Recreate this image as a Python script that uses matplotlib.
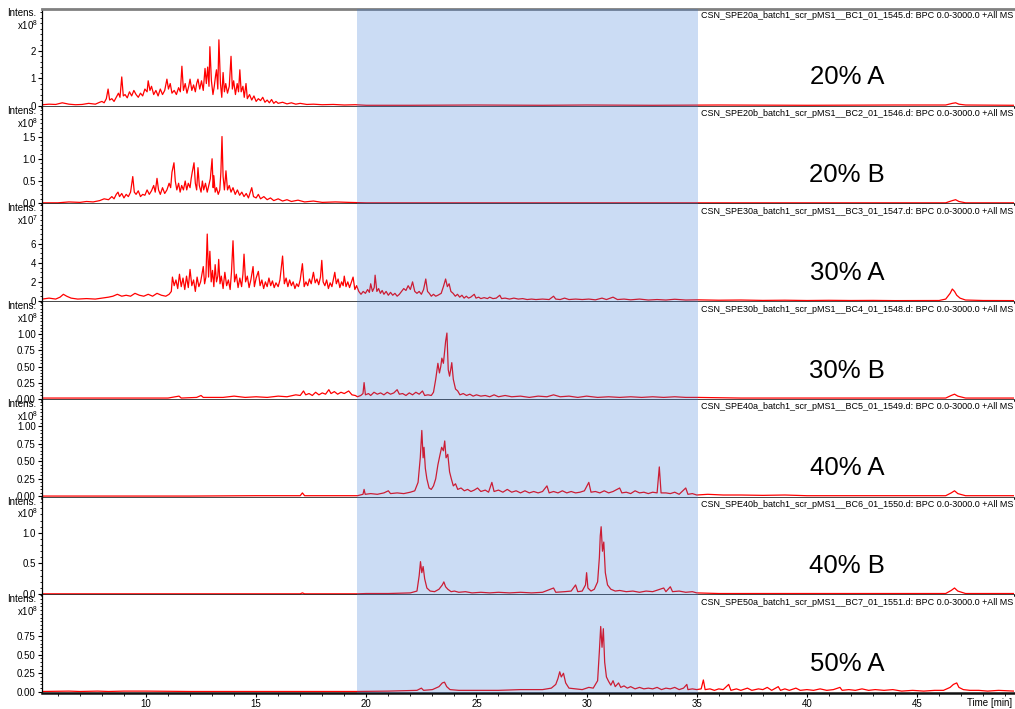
import matplotlib
matplotlib.use("Agg")
import matplotlib.pyplot as plt
from matplotlib.ticker import MultipleLocator, FormatStrFormatter

plt.rcParams['font.family'] = ['Liberation Sans', 'DejaVu Sans']
plt.rcParams['mathtext.fontset'] = 'custom'
plt.rcParams['mathtext.rm'] = 'Liberation Sans'

# --- data: retention time [min] and intensity (in units of the panel multiplier) ---
t_20a = [5.3, 5.6, 5.9, 6.2, 6.5, 6.8, 7.1, 7.4, 7.7, 7.9, 8.0, 8.1, 8.2, 8.28, 8.35, 8.45, 8.55, 8.65, 8.75, 8.82,
         8.9, 8.97, 9.05, 9.15, 9.25, 9.35, 9.45, 9.55, 9.65, 9.75, 9.85, 9.95, 10.05, 10.1, 10.18, 10.25, 10.35,
         10.45, 10.55, 10.65, 10.75, 10.85, 10.95, 11.02, 11.1, 11.18, 11.28, 11.38, 11.48, 11.56, 11.63, 11.7,
         11.78, 11.86, 11.94, 12.0, 12.08, 12.16, 12.24, 12.3, 12.36, 12.44, 12.52, 12.6, 12.68, 12.74, 12.8,
         12.86, 12.9, 12.97, 13.04, 13.1, 13.16, 13.2, 13.26, 13.31, 13.38, 13.44, 13.5, 13.56, 13.62, 13.7,
         13.78, 13.86, 13.92, 13.98, 14.06, 14.14, 14.2, 14.26, 14.32, 14.4, 14.46, 14.54, 14.6, 14.7, 14.8,
         14.9, 15.0, 15.1, 15.2, 15.3, 15.4, 15.5, 15.6, 15.7, 15.8, 15.9, 16.0, 16.2, 16.4, 16.6, 16.8, 17.0,
         17.3, 17.6, 18.0, 18.5, 19.0, 19.5, 20, 22, 25, 28, 30, 33, 36, 40, 44, 46.3, 46.6, 46.75, 46.9, 47.2, 49.4]
i_20a = [0.03, 0.05, 0.04, 0.10, 0.05, 0.03, 0.04, 0.08, 0.05, 0.12, 0.15, 0.10, 0.25, 0.60, 0.20, 0.25, 0.15,
         0.30, 0.45, 0.30, 1.04, 0.35, 0.40, 0.28, 0.50, 0.35, 0.55, 0.40, 0.30, 0.45, 0.35, 0.60, 0.50, 0.90,
         0.55, 0.70, 0.40, 0.55, 0.35, 0.60, 0.40, 0.55, 0.96, 0.60, 0.80, 0.45, 0.55, 0.40, 0.65, 0.50, 1.43,
         0.55, 0.80, 0.45, 0.70, 0.96, 0.55, 0.75, 0.50, 0.80, 0.96, 0.60, 0.90, 0.55, 1.35, 0.80, 1.40, 0.70,
         2.14, 0.90, 0.40, 0.70, 1.10, 1.30, 0.60, 2.39, 0.80, 0.30, 1.20, 0.50, 0.80, 0.45, 0.70, 1.79, 0.60,
         0.90, 0.40, 0.80, 0.50, 1.30, 0.50, 0.70, 0.30, 0.80, 0.25, 0.40, 0.20, 0.35, 0.15, 0.25, 0.18, 0.30,
         0.12, 0.20, 0.10, 0.22, 0.08, 0.15, 0.08, 0.12, 0.06, 0.10, 0.05, 0.08, 0.04, 0.05, 0.03, 0.04, 0.02,
         0.03, 0.01, 0.01, 0.02, 0.01, 0.02, 0.01, 0.02, 0.01, 0.02, 0.02, 0.08, 0.10, 0.05, 0.02, 0.01]

t_20b = [5.3, 6.0, 6.5, 7.0, 7.3, 7.6, 7.9, 8.1, 8.3, 8.45, 8.55, 8.65, 8.73, 8.8, 8.9, 9.0, 9.1, 9.2, 9.3, 9.4,
         9.47, 9.55, 9.65, 9.75, 9.85, 9.95, 10.05, 10.15, 10.25, 10.35, 10.42, 10.5, 10.57, 10.65, 10.75, 10.85,
         10.95, 11.05, 11.12, 11.18, 11.27, 11.33, 11.4, 11.48, 11.55, 11.62, 11.7, 11.78, 11.85, 11.92, 12.0,
         12.05, 12.1, 12.18, 12.24, 12.3, 12.36, 12.42, 12.5, 12.56, 12.62, 12.7, 12.78, 12.85, 12.92, 13.0,
         13.05, 13.08, 13.14, 13.2, 13.28, 13.35, 13.4, 13.45, 13.5, 13.56, 13.63, 13.7, 13.78, 13.86, 13.95,
         14.05, 14.15, 14.25, 14.35, 14.45, 14.55, 14.65, 14.8, 14.88, 15.0, 15.1, 15.2, 15.35, 15.5, 15.65,
         15.8, 16.0, 16.2, 16.4, 16.6, 16.9, 17.2, 17.6, 18.0, 18.6, 19.2, 20, 24, 30, 38, 46.3, 46.6, 46.75,
         46.9, 47.2, 49.4]
i_20b = [0.01, 0.01, 0.03, 0.02, 0.04, 0.03, 0.06, 0.10, 0.08, 0.15, 0.10, 0.20, 0.25, 0.15, 0.22, 0.12, 0.20,
         0.15, 0.25, 0.60, 0.25, 0.20, 0.28, 0.15, 0.20, 0.18, 0.30, 0.20, 0.28, 0.40, 0.25, 0.56, 0.30, 0.20,
         0.35, 0.22, 0.30, 0.45, 0.35, 0.70, 0.91, 0.50, 0.30, 0.45, 0.25, 0.40, 0.30, 0.50, 0.30, 0.45, 0.35,
         0.55, 0.70, 0.91, 0.45, 0.30, 0.80, 0.40, 0.25, 0.50, 0.30, 0.45, 0.25, 0.40, 0.55, 1.00, 0.35, 0.62,
         0.25, 0.35, 0.20, 0.30, 0.70, 1.50, 0.60, 0.30, 0.73, 0.30, 0.40, 0.25, 0.35, 0.20, 0.30, 0.18, 0.25,
         0.15, 0.22, 0.12, 0.35, 0.15, 0.12, 0.20, 0.10, 0.15, 0.08, 0.12, 0.06, 0.10, 0.05, 0.08, 0.04, 0.07,
         0.03, 0.05, 0.02, 0.03, 0.02, 0.01, 0.01, 0.01, 0.01, 0.01, 0.06, 0.08, 0.04, 0.01, 0.01]

t_30a = [5.3, 5.6, 5.9, 6.1, 6.25, 6.4, 6.6, 6.9, 7.3, 7.7, 8.0, 8.3, 8.5, 8.7, 8.9, 9.1, 9.3, 9.5, 9.7, 9.9, 10.1,
         10.3, 10.5, 10.7, 10.9, 11.05, 11.15, 11.2, 11.28, 11.36, 11.44, 11.52, 11.6, 11.68, 11.76, 11.84,
         11.92, 12.0, 12.08, 12.16, 12.24, 12.32, 12.4, 12.48, 12.55, 12.6, 12.66, 12.72, 12.78, 12.84, 12.9,
         12.96, 13.02, 13.08, 13.14, 13.2, 13.26, 13.3, 13.36, 13.42, 13.5, 13.58, 13.66, 13.74, 13.82, 13.88,
         13.95, 14.02, 14.1, 14.18, 14.26, 14.34, 14.4, 14.45, 14.52, 14.6, 14.68, 14.76, 14.86, 14.92, 15.0,
         15.1, 15.18, 15.26, 15.34, 15.42, 15.5, 15.58, 15.66, 15.74, 15.82, 15.9, 16.0, 16.08, 16.2, 16.28,
         16.36, 16.44, 16.52, 16.6, 16.68, 16.76, 16.84, 16.92, 17.0, 17.1, 17.18, 17.26, 17.34, 17.42, 17.5,
         17.6, 17.68, 17.76, 17.84, 17.92, 17.98, 18.04, 18.12, 18.2, 18.28, 18.36, 18.44, 18.5, 18.57, 18.64,
         18.72, 18.8, 18.88, 18.95, 19.0, 19.08, 19.16, 19.24, 19.3, 19.4, 19.48, 19.56, 19.66, 19.76, 19.86,
         19.96, 20.06, 20.14, 20.2, 20.28, 20.36, 20.4, 20.48, 20.56, 20.64, 20.72, 20.8, 20.9, 21.0, 21.1,
         21.2, 21.3, 21.4, 21.5, 21.6, 21.7, 21.8, 21.9, 22.0, 22.1, 22.2, 22.3, 22.4, 22.5, 22.6, 22.7, 22.78,
         22.86, 22.95, 23.05, 23.15, 23.25, 23.4, 23.5, 23.6, 23.68, 23.76, 23.84, 23.94, 24.04, 24.14, 24.24,
         24.34, 24.44, 24.54, 24.64, 24.74, 24.9, 24.98, 25.1, 25.2, 25.35, 25.5, 25.6, 25.75, 25.9, 26.06,
         26.14, 26.3, 26.5, 26.7, 26.9, 27.1, 27.3, 27.5, 27.7, 28.0, 28.3, 28.5, 28.6, 28.8, 29.0, 29.2, 29.5,
         29.8, 30.1, 30.4, 30.7, 30.9, 31.2, 31.4, 31.7, 32.0, 32.4, 32.8, 33.2, 33.6, 34.0, 34.5, 35.0, 36, 37,
         38, 39, 40, 41, 42, 43, 44, 45, 46.0, 46.3, 46.5, 46.6, 46.7, 46.8, 46.95, 47.2, 48, 49.4]
i_30a = [0.2, 0.3, 0.2, 0.4, 0.7, 0.5, 0.3, 0.2, 0.25, 0.2, 0.3, 0.4, 0.5, 0.7, 0.5, 0.6, 0.5, 0.8, 0.6, 0.5, 0.7,
         0.5, 0.8, 0.6, 0.5, 0.7, 1.0, 2.5, 1.6, 2.2, 1.3, 2.8, 1.5, 2.4, 1.2, 2.6, 1.4, 3.3, 1.6, 2.2, 1.0, 2.5,
         1.5, 2.0, 2.9, 3.6, 1.8, 2.5, 7.0, 2.5, 5.2, 2.0, 3.2, 1.5, 3.8, 2.0, 2.6, 4.35, 1.8, 2.6, 1.3, 3.0, 1.6,
         2.2, 1.2, 3.0, 6.3, 2.0, 2.8, 1.4, 2.4, 1.5, 2.8, 4.9, 2.0, 2.6, 1.4, 2.2, 3.6, 1.5, 2.4, 3.1, 1.6, 2.2,
         1.3, 2.0, 1.5, 2.4, 1.6, 2.1, 1.4, 1.9, 1.5, 2.2, 4.7, 1.8, 2.4, 1.5, 2.2, 1.6, 2.0, 1.3, 1.8, 1.5, 2.2,
         3.9, 1.5, 2.0, 1.6, 2.3, 1.8, 3.0, 1.9, 2.3, 1.7, 2.5, 4.25, 2.0, 1.6, 2.2, 1.3, 1.9, 1.5, 2.2, 3.0, 1.8,
         2.3, 1.4, 2.0, 1.6, 2.6, 1.5, 2.0, 1.4, 1.8, 2.5, 1.2, 1.6, 1.0, 0.7, 1.0, 0.8, 1.2, 0.9, 1.8, 1.0, 1.4,
         2.7, 1.0, 1.3, 0.8, 1.1, 0.7, 1.0, 0.6, 0.9, 0.6, 0.8, 0.5, 0.7, 1.0, 1.3, 1.1, 1.6, 1.2, 2.0, 1.0, 0.8,
         1.0, 0.7, 1.2, 2.3, 1.0, 0.8, 0.5, 0.7, 0.5, 0.6, 0.8, 1.5, 2.3, 1.5, 1.8, 1.0, 0.8, 0.5, 0.7, 0.4, 0.6,
         0.3, 0.5, 0.3, 0.4, 0.7, 0.3, 0.4, 0.25, 0.35, 0.25, 0.4, 0.25, 0.3, 0.6, 0.25, 0.3, 0.2, 0.3, 0.2,
         0.25, 0.15, 0.2, 0.15, 0.2, 0.15, 0.5, 0.2, 0.15, 0.3, 0.15, 0.2, 0.15, 0.2, 0.12, 0.3, 0.15, 0.4, 0.15,
         0.2, 0.12, 0.2, 0.1, 0.15, 0.1, 0.18, 0.1, 0.12, 0.08, 0.1, 0.06, 0.08, 0.05, 0.07, 0.05, 0.06, 0.04,
         0.05, 0.05, 0.2, 0.8, 1.25, 1.0, 0.6, 0.3, 0.1, 0.05, 0.04]

t_30b = [5.3, 7, 9, 11, 11.5, 11.6, 12.3, 12.5, 12.6, 13.5, 14, 14.5, 15, 15.5, 16.0, 16.4, 16.8, 17.0, 17.15,
         17.25, 17.4, 17.55, 17.7, 17.85, 18.0, 18.15, 18.3, 18.4, 18.55, 18.7, 18.85, 19.0, 19.2, 19.35, 19.5,
         19.6, 19.75, 19.85, 19.9, 19.96, 20.1, 20.2, 20.35, 20.5, 20.65, 20.8, 20.95, 21.1, 21.25, 21.4, 21.5,
         21.65, 21.8, 21.95, 22.1, 22.25, 22.4, 22.55, 22.65, 22.8, 22.95, 23.05, 23.15, 23.25, 23.32, 23.38,
         23.43, 23.5, 23.56, 23.6, 23.66, 23.72, 23.78, 23.83, 23.88, 23.95, 24.05, 24.15, 24.25, 24.4, 24.55,
         24.7, 24.85, 25.0, 25.2, 25.4, 25.6, 25.8, 26.0, 26.3, 26.6, 27.0, 27.4, 27.8, 28.2, 28.5, 28.8, 29.2,
         29.6, 30.0, 30.5, 31, 31.5, 32, 32.5, 33, 33.5, 34, 34.5, 35, 37, 40, 43, 46.3, 46.55, 46.7, 46.85,
         47.2, 49.4]
i_30b = [0.01, 0.01, 0.01, 0.01, 0.04, 0.01, 0.02, 0.05, 0.02, 0.02, 0.04, 0.02, 0.03, 0.02, 0.04, 0.03, 0.06,
         0.05, 0.12, 0.06, 0.08, 0.05, 0.10, 0.06, 0.09, 0.07, 0.14, 0.08, 0.11, 0.07, 0.10, 0.08, 0.12, 0.06,
         0.05, 0.03, 0.05, 0.08, 0.25, 0.06, 0.08, 0.05, 0.10, 0.07, 0.09, 0.06, 0.10, 0.07, 0.09, 0.14, 0.07,
         0.08, 0.05, 0.09, 0.06, 0.10, 0.07, 0.12, 0.05, 0.06, 0.05, 0.10, 0.30, 0.55, 0.40, 0.50, 0.63, 0.55,
         0.75, 0.89, 1.02, 0.45, 0.35, 0.45, 0.56, 0.30, 0.15, 0.12, 0.06, 0.08, 0.05, 0.07, 0.04, 0.06, 0.04,
         0.05, 0.03, 0.06, 0.03, 0.05, 0.03, 0.04, 0.02, 0.04, 0.03, 0.06, 0.03, 0.04, 0.02, 0.04, 0.02, 0.03,
         0.02, 0.03, 0.02, 0.03, 0.02, 0.03, 0.02, 0.02, 0.01, 0.01, 0.01, 0.01, 0.05, 0.07, 0.04, 0.01, 0.01]

t_40a = [5.3, 8, 12, 15, 17.0, 17.1, 17.2, 18.5, 19.6, 19.85, 19.9, 19.95, 20.2, 20.5, 20.8, 21.0, 21.1, 21.4,
         21.7, 22.0, 22.2, 22.35, 22.45, 22.52, 22.58, 22.62, 22.68, 22.75, 22.85, 22.95, 23.05, 23.15, 23.25,
         23.35, 23.42, 23.5, 23.56, 23.62, 23.7, 23.78, 23.86, 23.95, 24.05, 24.15, 24.3, 24.45, 24.6, 24.75,
         24.9, 25.05, 25.2, 25.4, 25.55, 25.7, 25.8, 26.0, 26.2, 26.4, 26.6, 26.8, 27.0, 27.2, 27.4, 27.6, 27.8,
         28.0, 28.2, 28.3, 28.5, 28.7, 28.9, 29.1, 29.3, 29.5, 29.7, 29.9, 30.1, 30.2, 30.4, 30.6, 30.8, 31.0,
         31.2, 31.5, 31.6, 31.8, 32.0, 32.2, 32.4, 32.6, 32.8, 33.0, 33.2, 33.3, 33.38, 33.6, 33.8, 34.0, 34.2,
         34.5, 34.6, 34.8, 35.0, 35.5, 36.2, 37, 38, 39.0, 40, 42, 44, 46.3, 46.55, 46.7, 46.85, 47.2, 49.4]
i_40a = [0.005, 0.005, 0.005, 0.01, 0.01, 0.05, 0.01, 0.01, 0.01, 0.03, 0.10, 0.03, 0.04, 0.03, 0.05, 0.08,
         0.04, 0.05, 0.04, 0.06, 0.08, 0.20, 0.55, 0.94, 0.55, 0.70, 0.40, 0.25, 0.12, 0.10, 0.15, 0.25, 0.45,
         0.60, 0.70, 0.65, 0.79, 0.55, 0.60, 0.35, 0.25, 0.15, 0.18, 0.10, 0.12, 0.08, 0.10, 0.07, 0.09, 0.12,
         0.07, 0.09, 0.06, 0.20, 0.07, 0.09, 0.06, 0.10, 0.06, 0.08, 0.05, 0.08, 0.05, 0.07, 0.05, 0.07, 0.15,
         0.05, 0.07, 0.05, 0.08, 0.05, 0.07, 0.05, 0.06, 0.08, 0.20, 0.06, 0.07, 0.05, 0.08, 0.05, 0.07, 0.12,
         0.05, 0.06, 0.04, 0.08, 0.05, 0.06, 0.04, 0.06, 0.05, 0.42, 0.05, 0.05, 0.04, 0.06, 0.03, 0.12, 0.03,
         0.04, 0.02, 0.03, 0.02, 0.02, 0.015, 0.02, 0.01, 0.01, 0.01, 0.01, 0.05, 0.08, 0.04, 0.01, 0.01]

t_40b = [5.3, 10, 15, 17.0, 17.1, 17.2, 19.6, 20, 21, 22.0, 22.3, 22.4, 22.46, 22.52, 22.58, 22.65, 22.75, 22.9,
         23.1, 23.3, 23.45, 23.52, 23.6, 23.7, 23.85, 24.0, 24.2, 24.5, 24.8, 25.2, 25.6, 26.0, 26.5, 27.0, 27.5,
         28.0, 28.5, 28.6, 29.0, 29.3, 29.5, 29.6, 29.8, 29.95, 30.0, 30.06, 30.2, 30.35, 30.5, 30.58, 30.62,
         30.66, 30.72, 30.78, 30.85, 30.95, 31.1, 31.3, 31.5, 31.8, 32.1, 32.4, 32.7, 33.0, 33.5, 33.6, 33.8,
         33.9, 34.2, 34.5, 34.8, 35.0, 36, 38, 41, 44, 46.3, 46.55, 46.7, 46.85, 47.2, 49.4]
i_40b = [0.005, 0.005, 0.005, 0.005, 0.02, 0.005, 0.005, 0.01, 0.01, 0.02, 0.05, 0.30, 0.53, 0.35, 0.45, 0.25,
         0.10, 0.05, 0.04, 0.08, 0.15, 0.20, 0.12, 0.08, 0.04, 0.05, 0.03, 0.04, 0.02, 0.03, 0.02, 0.03, 0.02,
         0.03, 0.02, 0.03, 0.10, 0.03, 0.04, 0.05, 0.15, 0.04, 0.05, 0.15, 0.35, 0.10, 0.05, 0.08, 0.20, 0.60,
         0.95, 1.10, 0.70, 0.85, 0.35, 0.15, 0.08, 0.05, 0.06, 0.04, 0.05, 0.03, 0.05, 0.04, 0.10, 0.04, 0.12,
         0.04, 0.05, 0.03, 0.04, 0.02, 0.01, 0.01, 0.01, 0.01, 0.01, 0.06, 0.10, 0.05, 0.01, 0.01]

t_50a = [5.3, 6.5, 7.0, 7.8, 8.3, 9.0, 10.0, 12, 15, 18, 19.6, 21, 22.3, 22.5, 22.6, 23.0, 23.3, 23.45, 23.55,
         23.65, 23.8, 24.2, 25, 26, 27, 28.0, 28.4, 28.6, 28.7, 28.78, 28.85, 28.95, 29.05, 29.2, 29.5, 29.8,
         30.1, 30.3, 30.5, 30.58, 30.64, 30.7, 30.76, 30.82, 30.9, 31.0, 31.1, 31.2, 31.3, 31.45, 31.55, 31.7,
         31.85, 32.0, 32.2, 32.4, 32.6, 32.8, 33.0, 33.2, 33.4, 33.6, 33.8, 34.0, 34.2, 34.4, 34.55, 34.6, 34.8,
         35.0, 35.2, 35.3, 35.38, 35.6, 35.8, 36.0, 36.2, 36.45, 36.55, 36.8, 37.0, 37.3, 37.5, 37.8, 38.0,
         38.2, 38.4, 38.7, 38.8, 39.0, 39.2, 39.5, 39.7, 40.0, 40.3, 40.6, 40.9, 41.2, 41.5, 41.6, 41.9, 42.2,
         42.5, 42.8, 43.1, 43.5, 43.9, 44.3, 44.8, 45.3, 45.8, 46.2, 46.5, 46.65, 46.8, 46.9, 47.1, 47.4, 47.8,
         48.2, 48.7, 49.4]
i_50a = [0.005, 0.01, 0.005, 0.01, 0.005, 0.01, 0.01, 0.005, 0.005, 0.005, 0.005, 0.01, 0.02, 0.05, 0.02, 0.03,
         0.07, 0.12, 0.13, 0.07, 0.03, 0.02, 0.02, 0.02, 0.03, 0.03, 0.05, 0.10, 0.18, 0.27, 0.20, 0.25, 0.12,
         0.05, 0.04, 0.03, 0.06, 0.05, 0.15, 0.55, 0.88, 0.60, 0.85, 0.40, 0.20, 0.14, 0.09, 0.15, 0.07, 0.12,
         0.06, 0.08, 0.05, 0.07, 0.04, 0.06, 0.04, 0.05, 0.04, 0.06, 0.03, 0.05, 0.04, 0.06, 0.03, 0.05, 0.10,
         0.03, 0.04, 0.03, 0.04, 0.16, 0.03, 0.04, 0.02, 0.04, 0.03, 0.10, 0.02, 0.04, 0.02, 0.05, 0.02, 0.04,
         0.03, 0.06, 0.02, 0.07, 0.02, 0.04, 0.02, 0.05, 0.02, 0.03, 0.02, 0.04, 0.02, 0.03, 0.06, 0.02, 0.03,
         0.02, 0.04, 0.02, 0.03, 0.02, 0.03, 0.01, 0.02, 0.01, 0.02, 0.02, 0.06, 0.10, 0.12, 0.06, 0.03, 0.02,
         0.02, 0.01, 0.02, 0.01]

labels = ["20% A", "20% B", "30% A", "30% B", "40% A", "40% B", "50% A"]
files = ["CSN_SPE20a_batch1_scr_pMS1__BC1_01_1545.d", "CSN_SPE20b_batch1_scr_pMS1__BC2_01_1546.d",
         "CSN_SPE30a_batch1_scr_pMS1__BC3_01_1547.d", "CSN_SPE30b_batch1_scr_pMS1__BC4_01_1548.d",
         "CSN_SPE40a_batch1_scr_pMS1__BC5_01_1549.d", "CSN_SPE40b_batch1_scr_pMS1__BC6_01_1550.d",
         "CSN_SPE50a_batch1_scr_pMS1__BC7_01_1551.d"]
exponents = [8, 8, 7, 8, 8, 8, 8]
times = [t_20a, t_20b, t_30a, t_30b, t_40a, t_40b, t_50a]
intens = [i_20a, i_20b, i_30a, i_30b, i_40a, i_40b, i_50a]

# axis settings per panel: top, major step, minor step, tick format
ytops = [3.51, 2.17, 10.1, 1.50, 1.376, 1.576, 1.30]
ymajor = [1, 0.5, 2, 0.25, 0.25, 0.5, 0.25]
yminor = [0.2, 0.1, 0.5, 0.05, 0.05, 0.1, 0.05]
yfmt = ['%d', '%.1f', '%d', '%.2f', '%.2f', '%.1f', '%.2f']
yticks_max = [2, 1.5, 6, 1.0, 1.0, 1.0, 0.75]

fig, axes = plt.subplots(7, 1, figsize=(10.15, 7.09), dpi=100, sharex=True)
fig.subplots_adjust(left=42/1015, right=1014/1015, top=1-9/709, bottom=1-693/709, hspace=0)

for k, ax in enumerate(axes):
    ax.plot(times[k], intens[k], color='#ff0000', lw=0.9, zorder=2)
    ax.set_xlim(5.28, 49.4)
    ax.set_ylim(-0.012 * ytops[k], ytops[k])
    ax.axvspan(19.6, 35.07, color='#3377d5', alpha=0.25, lw=0, zorder=5)

    ax.yaxis.set_major_locator(MultipleLocator(ymajor[k]))
    ax.yaxis.set_minor_locator(MultipleLocator(yminor[k]))
    ax.yaxis.set_major_formatter(FormatStrFormatter(yfmt[k]))
    ticks = [v * ymajor[k] for v in range(int(round(yticks_max[k] / ymajor[k])) + 1)]
    ax.set_yticks(ticks)
    ax.tick_params(axis='y', which='major', direction='out', length=3, width=0.8, pad=1.5, labelsize=7)
    ax.tick_params(axis='y', which='minor', direction='out', length=1.8, width=0.6)

    ax.spines['right'].set_visible(False)
    ax.spines['left'].set_linewidth(0.9)
    ax.spines['bottom'].set_linewidth(1.8)
    ax.spines['bottom'].set_color('#111111')
    if k == 0:
        ax.spines['top'].set_color('#808080')
        ax.spines['top'].set_linewidth(2)
    else:
        ax.spines['top'].set_visible(False)

    ax.annotate('Intens.', xy=(0, 1), xycoords='axes fraction', xytext=(-4.3, -2.9),
                textcoords='offset points', ha='right', va='center', fontsize=7, zorder=10)
    ax.annotate(r'$\mathregular{x10^{%d}}$' % exponents[k], xy=(0, 1), xycoords='axes fraction',
                xytext=(-3, -11.5), textcoords='offset points', ha='right', va='center', fontsize=7)
    ax.text(0.999, 0.975, files[k] + ': BPC 0.0-3000.0 +All MS', transform=ax.transAxes,
            ha='right', va='top', fontsize=6.45, zorder=10)
    ax.text(0.828, 0.30, labels[k], transform=ax.transAxes, ha='center', va='center', fontsize=18.5)

    if k < 6:
        ax.tick_params(axis='x', which='both', bottom=False, labelbottom=False)

bot = axes[-1]
bot.xaxis.set_major_locator(MultipleLocator(5))
bot.xaxis.set_minor_locator(MultipleLocator(1))
bot.tick_params(axis='x', which='major', direction='out', length=3, width=0.8, pad=1.5, labelsize=7)
bot.tick_params(axis='x', which='minor', direction='out', length=2, width=0.6)
bot.annotate('Time [min]', xy=(1, 0), xycoords='axes fraction', xytext=(-1.5, -7.2),
             textcoords='offset points', ha='right', va='center', fontsize=7)

plt.savefig("out.png", dpi=100)
